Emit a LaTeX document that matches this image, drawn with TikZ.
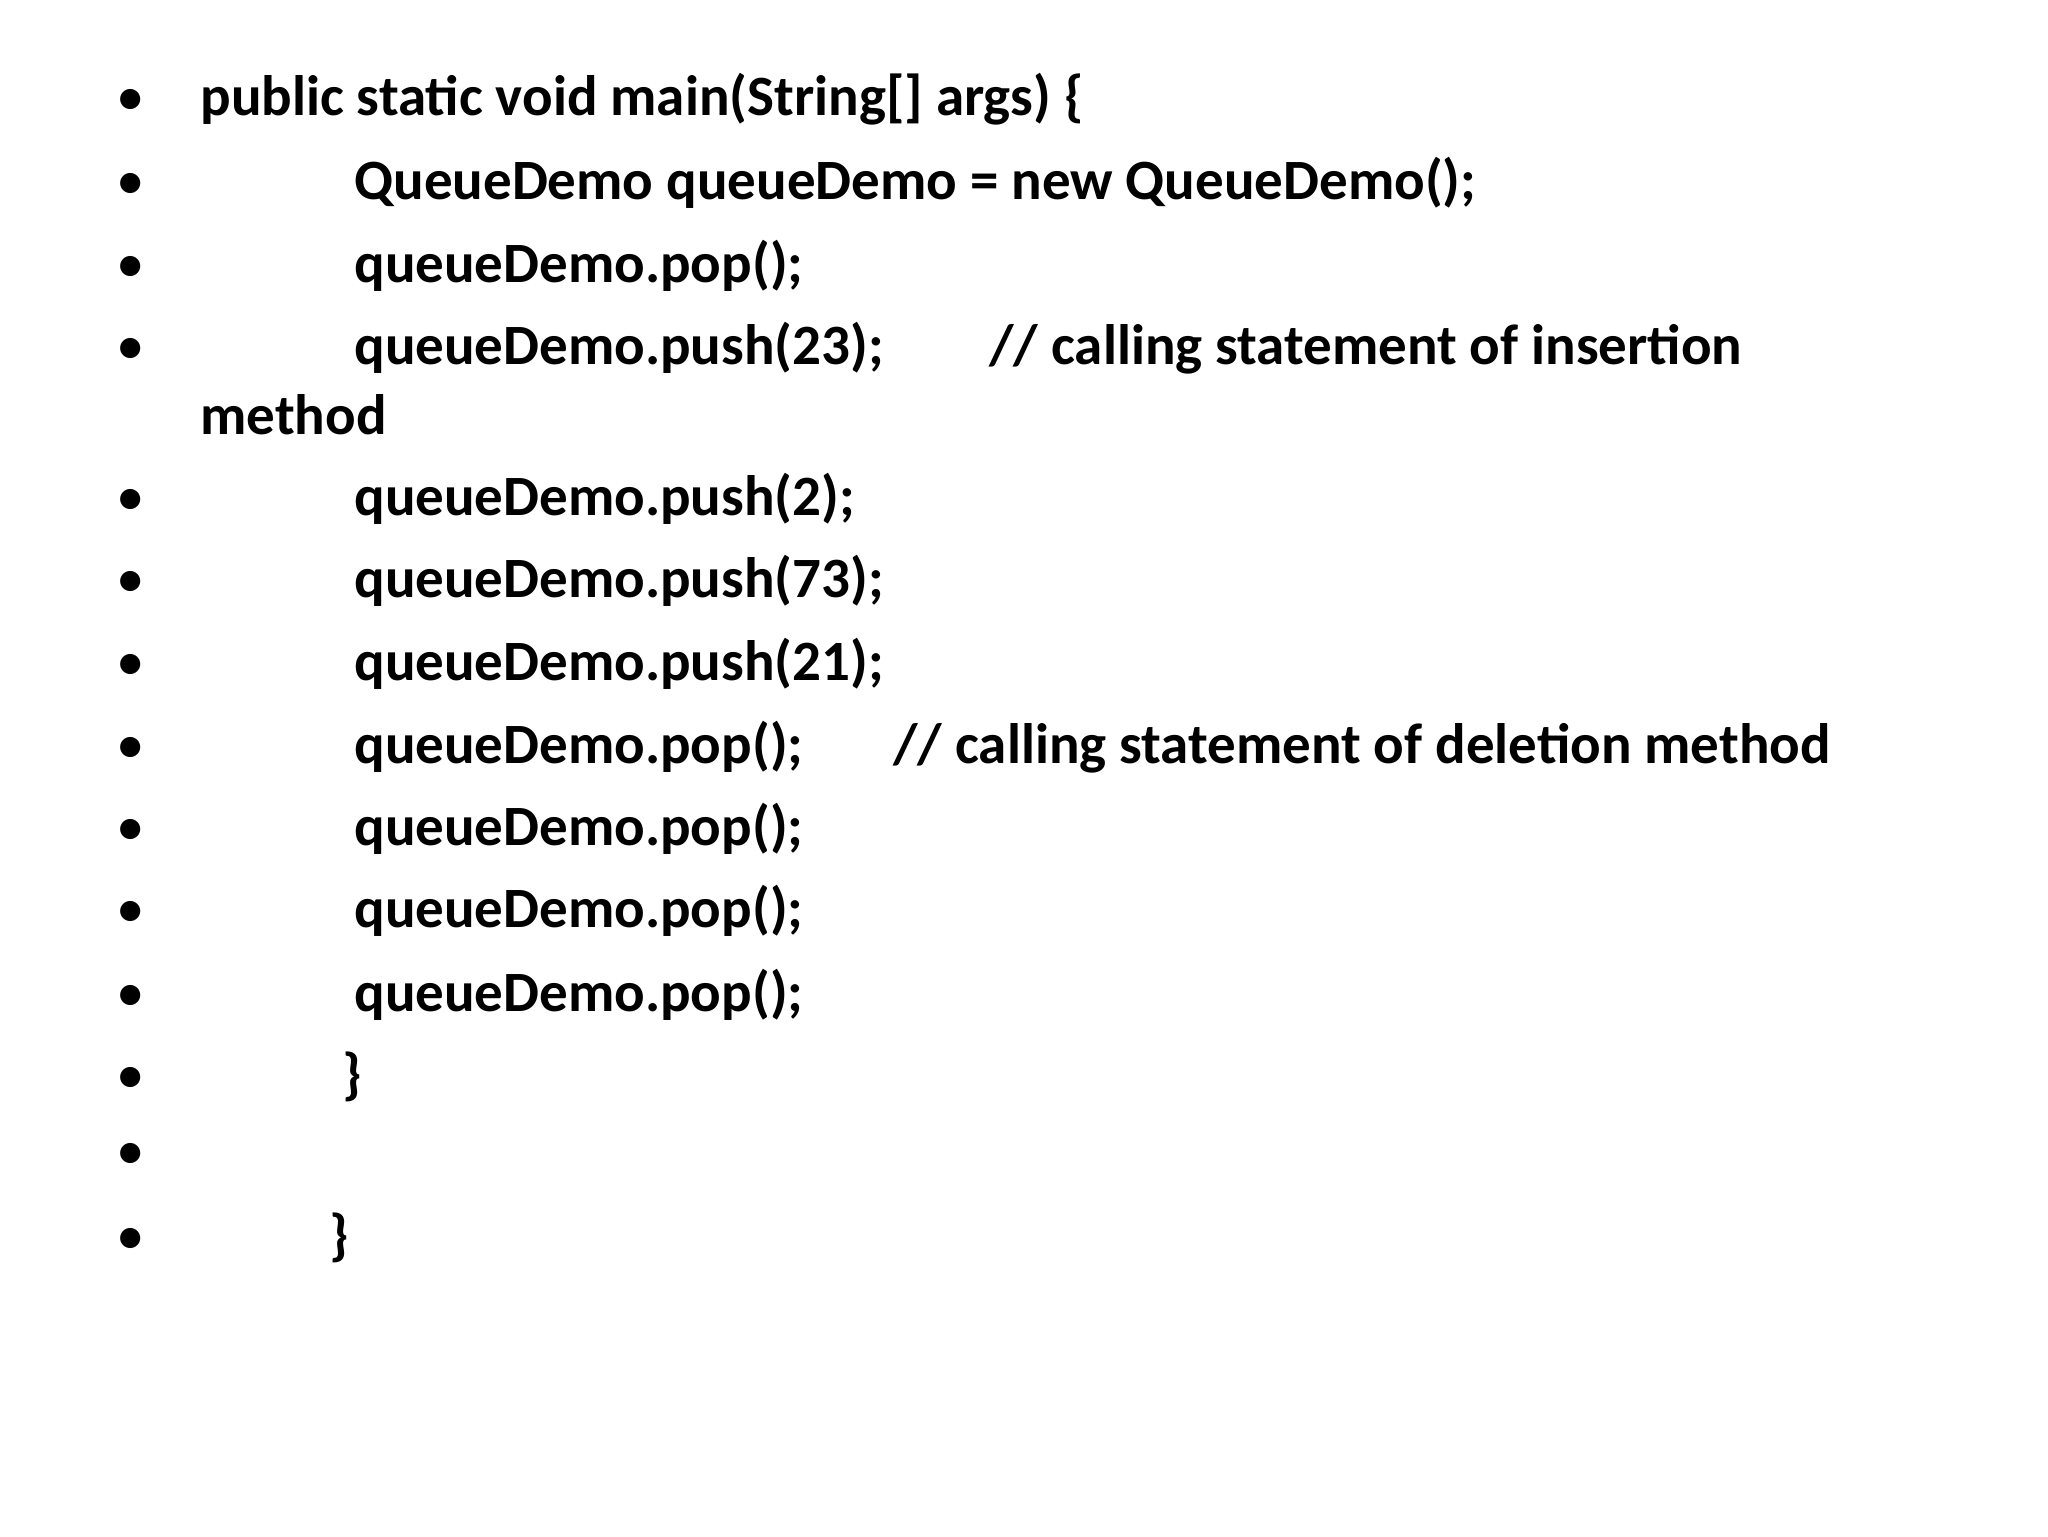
\documentclass[tikz,border=0pt]{standalone}
\usepackage{fontspec}
\setmainfont{Carlito}
\begin{document}
\begin{tikzpicture}[x=0.5pt,y=-0.5pt,
  txt/.style={anchor=base west,inner sep=0pt,font=\fontsize{28.5}{34}\selectfont\bfseries},
  bul/.style={anchor=base,inner sep=0pt,font=\fontsize{28.5}{34}\selectfont}]
\useasboundingbox (0,0) rectangle (2048,1536);
\foreach \y/\n in {116/1,199/2,282/3,364/4,515/5,597/6,680/7,763/8,845/9,927/10,1011/11,1093/12,1169/13,1254/14}
  \node[bul] (b\n) at (131,\y) {•};
\node[txt] (l1) at (200,116) {public static void main(String[] args) \{};
\node[txt] (l2) at (354,199) {QueueDemo queueDemo = new QueueDemo();};
\node[txt] (l3) at (354,282) {queueDemo.pop();};
\node[txt] (l4) at (354,364) {queueDemo.push(23);};
\node[txt] (c4) at (989,364) {// calling statement of insertion};
\node[txt] (l4b) at (200,434) {method};
\node[txt] (l5) at (354,515) {queueDemo.push(2);};
\node[txt] (l6) at (354,597) {queueDemo.push(73);};
\node[txt] (l7) at (354,680) {queueDemo.push(21);};
\node[txt] (l8) at (354,763) {queueDemo.pop();};
\node[txt] (c8) at (893,763) {// calling statement of deletion method};
\node[txt] (l9) at (354,845) {queueDemo.pop();};
\node[txt] (l10) at (354,927) {queueDemo.pop();};
\node[txt] (l11) at (354,1011) {queueDemo.pop();};
\node[txt] (l12) at (342,1093) {\}};
\node[txt] (l14) at (329,1254) {\}};
\end{tikzpicture}
\end{document}
